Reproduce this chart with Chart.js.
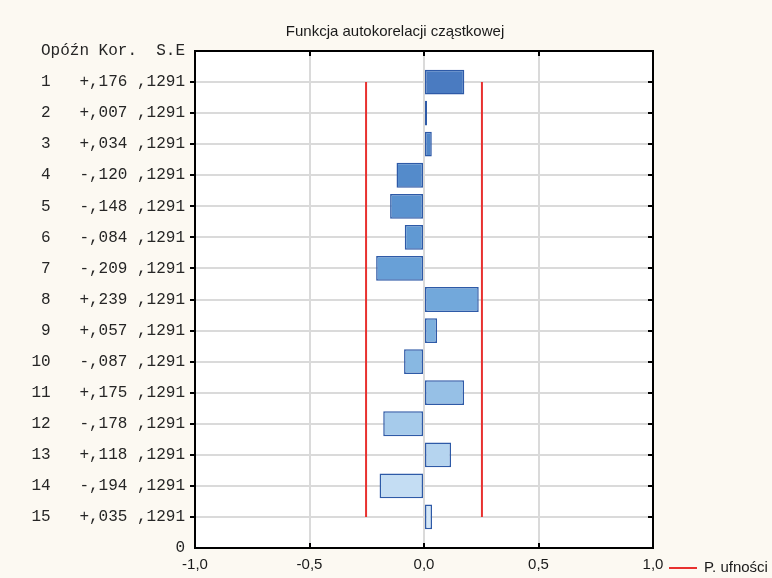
<!DOCTYPE html>
<html>
<head>
<meta charset="utf-8">
<script src="https://cdn.jsdelivr.net/npm/chart.js@4/dist/chart.umd.min.js"></script>
<style>
  body { margin: 0; background: #fcf9f2; }
</style>
</head>
<body>
<canvas id="chart" width="772" height="578"></canvas>
<script>
const lags = [1, 2, 3, 4, 5, 6, 7, 8, 9, 10, 11, 12, 13, 14, 15]
const pacf = [0.176, 0.007, 0.034, -0.120, -0.148, -0.084, -0.209, 0.239, 0.057, -0.087, 0.175, -0.178, 0.118, -0.194, 0.035]
const stdErr = ['1291', '1291', '1291', '1291', '1291', '1291', '1291', '1291', '1291', '1291', '1291', '1291', '1291', '1291', '1291']
const confLimits = [-0.253, 0.253]
const xTicks = [-1, -0.5, 0, 0.5, 1]

const header = ' Opóźn Kor.  S.E'
const rowLabels = lags.map((lag, i) => {
  const v = pacf[i]
  const sign = v < 0 ? '-' : '+'
  const digits = String(Math.round(Math.abs(v) * 1000)).padStart(3, '0')
  return `${String(lag).padStart(2)}   ${sign},${digits} ,${stdErr[i]}`
})
const yLabels = [header, ...rowLabels, '0']

const barColors = [
  '#4a7bc1', '#4d80c4', '#5086c8', '#548bcb', '#5a92cf',
  '#6099d3', '#68a0d7', '#72a8db', '#7cb0de', '#88b8e2',
  '#96c0e6', '#a6cbeb', '#b5d4ef', '#c4ddf3', '#d4e7f7',
]

const sans = '"Liberation Sans", Arial, sans-serif'
const inRows = (c) => c.tick && c.tick.value >= 1 && c.tick.value <= 15
const inCols = (c) => c.tick && Math.abs(c.tick.value) < 1

const frame = {
  id: 'frame',
  beforeDraw(chart) {
    const { ctx, chartArea: a } = chart
    ctx.save()
    ctx.fillStyle = '#fcf9f2'
    ctx.fillRect(0, 0, chart.width, chart.height)
    ctx.fillStyle = '#ffffff'
    ctx.fillRect(a.left, a.top, a.right - a.left, a.bottom - a.top)
    ctx.restore()
  },
  afterDraw(chart) {
    const { ctx, chartArea: a, scales } = chart
    ctx.save()
    ctx.strokeStyle = '#000'
    ctx.lineWidth = 2
    ctx.strokeRect(a.left, a.top, a.right - a.left, a.bottom - a.top)
    ctx.beginPath()
    ;[-0.5, 0, 0.5].forEach((v) => {
      const px = Math.round(scales.x.getPixelForValue(v))
      ctx.moveTo(px, a.bottom); ctx.lineTo(px, a.bottom - 5)
      ctx.moveTo(px, a.top); ctx.lineTo(px, a.top + 5)
    })
    lags.forEach((lag) => {
      const py = Math.round(scales.y.getPixelForValue(lag))
      ctx.moveTo(a.right, py); ctx.lineTo(a.right - 5, py)
    })
    ctx.stroke()

    // legend
    const ly = a.bottom + 20
    ctx.strokeStyle = '#e8312f'
    ctx.lineWidth = 2
    ctx.beginPath()
    ctx.moveTo(a.right + 16, ly); ctx.lineTo(a.right + 44, ly)
    ctx.stroke()
    ctx.fillStyle = '#1a1a1a'
    ctx.font = '15px ' + sans
    ctx.textBaseline = 'middle'
    ctx.fillText('P. ufności', a.right + 51, ly)
    ctx.restore()
  },
}

new Chart(document.getElementById('chart'), {
  data: {
    datasets: [
      {
        type: 'bar',
        indexAxis: 'y',
        data: lags.map((lag, i) => ({ x: pacf[i], y: lag })),
        backgroundColor: barColors,
        borderColor: '#2e5aa7',
        borderWidth: 1.5,
        borderSkipped: false,
        minBarLength: 3,
        barPercentage: 0.8,
        categoryPercentage: 1,
        order: 1,
      },
      ...confLimits.map((c) => ({
        type: 'line',
        data: [{ x: c, y: lags[0] }, { x: c, y: lags[lags.length - 1] }],
        borderColor: '#e8312f',
        borderWidth: 2,
        pointRadius: 0,
        order: 2,
      })),
    ],
  },
  options: {
    responsive: false,
    animation: false,
    layout: { padding: { left: 18, right: 0, top: 0, bottom: 0 } },
    plugins: {
      legend: { display: false },
      tooltip: { enabled: false },
      title: {
        display: true,
        text: 'Funkcja autokorelacji cząstkowej',
        color: '#1a1a1a',
        font: { family: sans, size: 15, weight: 'normal' },
        padding: { top: 23, bottom: 10 },
      },
    },
    scales: {
      x: {
        type: 'linear',
        min: -1,
        max: 1,
        offset: false,
        afterBuildTicks: (s) => { s.ticks = xTicks.map((v) => ({ value: v })) },
        afterFit: (s) => { s.height = 30 },
        ticks: {
          color: '#1a1a1a',
          font: { family: sans, size: 15 },
          padding: 8,
          callback: (v) => (v === 0 ? '0,0' : v.toFixed(1).replace('.', ',')),
        },
        grid: {
          offset: false,
          drawTicks: false,
          lineWidth: 2,
          color: (c) => (inCols(c) ? '#dadada' : 'transparent'),
        },
        border: { display: false, color: '#000' },
      },
      y: {
        type: 'linear',
        min: 0,
        max: 16,
        reverse: true,
        offset: false,
        afterBuildTicks: (s) => { s.ticks = yLabels.map((_, i) => ({ value: i })) },
        afterFit: (s) => { s.width = 177 },
        ticks: {
          color: '#262626',
          font: { family: '"Liberation Mono", monospace', size: 16 },
          padding: 5,
          autoSkip: false,
          callback: (v) => yLabels[v],
        },
        grid: {
          offset: false,
          lineWidth: 2,
          tickLength: 5,
          tickWidth: 2,
          tickColor: (c) => (inRows(c) ? '#000' : 'transparent'),
          color: (c) => (inRows(c) ? '#dadada' : 'transparent'),
        },
        border: { display: false, color: '#000' },
      },
      y2: {
        type: 'linear',
        position: 'right',
        afterFit: (s) => { s.width = 119 },
        ticks: { display: false },
        grid: { display: false },
        border: { display: false },
      },
    },
  },
  plugins: [frame],
})
</script>
</body>
</html>
